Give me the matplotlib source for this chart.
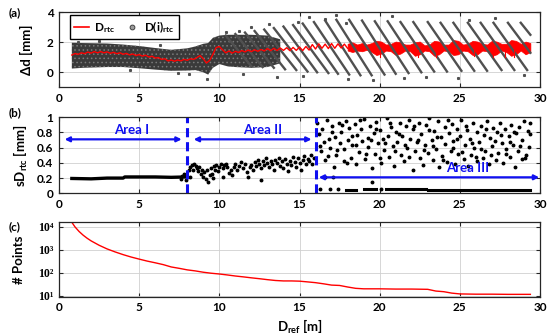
import numpy as np
import matplotlib
matplotlib.use("Agg")
import matplotlib.pyplot as plt
from matplotlib.lines import Line2D

plt.rcParams['font.family'] = ['Lato', 'DejaVu Sans']
plt.rcParams['font.weight'] = 'bold'
plt.rcParams['mathtext.fontset'] = 'custom'
plt.rcParams['mathtext.rm'] = 'Lato:bold'
plt.rcParams['mathtext.bf'] = 'Lato:bold'
plt.rcParams['mathtext.it'] = 'Lato:bold'
plt.rcParams['hatch.linewidth'] = 0.6

# ---- panel (a): D_rtc (red) and D(i)_rtc cloud (gray)
rtc_x = [0.8, 1.0, 1.2, 1.4, 1.6, 1.8, 2.0, 2.2, 2.4, 2.6, 2.8, 3.0, 3.2, 3.4, 3.6, 3.8,
         4.0, 4.2, 4.4, 4.6, 4.8, 5.0, 5.2, 5.4, 5.6, 5.8, 6.0, 6.2, 6.4, 6.6, 6.8, 7.0,
         7.2, 7.4, 7.6, 7.8, 8.0, 8.2, 8.4, 8.6, 8.8, 9.0, 9.2, 9.4, 9.6, 9.8, 10.0, 10.2,
         10.4, 10.6, 10.8, 11.0, 11.2, 11.4, 11.6, 11.8, 12.0, 12.2, 12.4, 12.6, 12.8, 13.0,
         13.2, 13.4, 13.6, 13.8, 14.0, 14.2, 14.4, 14.6, 14.8, 15.0, 15.2, 15.4, 15.6, 15.8,
         16.0, 16.2, 16.4, 16.6, 16.8, 17.0, 17.2, 17.4, 17.6, 17.8, 18.0]
rtc_y = [1.15, 1.25, 1.2, 1.3, 1.24, 1.35, 1.28, 1.38, 1.3, 1.38, 1.3, 1.36, 1.27, 1.33, 1.24, 1.3,
         1.2, 1.26, 1.16, 1.22, 1.12, 1.18, 1.08, 1.14, 1.02, 1.07, 0.95, 0.98, 0.86, 0.9, 0.76, 0.82,
         0.74, 0.82, 0.76, 0.86, 0.8, 0.9, 0.86, 0.98, 1.12, 0.9, 0.62, 0.8, 1.2, 1.65, 1.72, 1.5,
         1.3, 1.42, 1.28, 1.4, 1.32, 1.45, 1.36, 1.48, 1.38, 1.5, 1.4, 1.52, 1.42, 1.58,
         1.44, 1.6, 1.45, 1.62, 1.46, 1.64, 1.44, 1.66, 1.46, 1.68, 1.45, 1.72, 1.48, 1.85,
         1.55, 1.9, 1.6, 1.88, 1.58, 1.92, 1.6, 1.9, 1.62, 1.88, 1.6]

band_x = [18.0, 18.3, 18.6, 18.9, 19.2, 19.5, 19.8, 20.1, 20.4, 20.7, 21.0, 21.3, 21.6, 21.9,
          22.2, 22.5, 22.8, 23.1, 23.4, 23.7, 24.0, 24.3, 24.6, 24.9, 25.2, 25.5, 25.8, 26.1,
          26.4, 26.7, 27.0, 27.3, 27.6, 27.9, 28.2, 28.5, 28.8, 29.1, 29.4]
band_lo = [1.45, 1.35, 1.45, 1.4, 1.5, 1.35, 1.15, 1.25, 1.45, 1.4, 1.15, 1.25, 1.45, 1.4,
           1.1, 1.2, 1.45, 1.4, 1.1, 1.2, 1.45, 1.4, 1.15, 1.2, 1.45, 1.4, 1.15, 1.2,
           1.45, 1.4, 1.1, 1.2, 1.45, 1.35, 1.1, 1.2, 1.45, 1.2, 1.35]
band_hi = [1.9, 2.0, 1.85, 1.95, 1.85, 1.95, 2.1, 2.05, 1.85, 1.9, 2.05, 2.0, 1.85, 1.85,
           2.0, 2.05, 1.8, 1.85, 2.1, 2.05, 1.85, 1.85, 2.15, 2.1, 1.85, 1.9, 2.1, 2.05,
           1.9, 1.85, 2.1, 2.05, 1.9, 1.9, 2.15, 2.1, 1.9, 2.05, 1.95]
spike_x = [20.0, 22.4, 23.5, 25.9, 27.1, 27.8, 28.4]
spike_y = [1.0, 1.0, 1.05, 1.1, 1.0, 1.0, 1.05]

cloud_x = [0.8, 1.5, 3.0, 4.0, 5.0, 6.0, 7.0, 8.0, 8.5, 9.0, 9.3, 9.6, 10.0, 10.5, 11.0,
           12.0, 13.0, 13.8]
cloud_lo = [0.25, 0.3, 0.35, 0.35, 0.27, 0.18, 0.1, 0.12, 0.15, 0.0, -0.15, 0.3, 0.55, 0.4,
            0.35, 0.3, 0.35, 0.6]
cloud_hi = [1.97, 1.95, 1.92, 1.85, 1.75, 1.62, 1.5, 1.6, 1.72, 1.9, 1.95, 2.3, 2.45, 2.5,
            2.5, 2.5, 2.45, 2.2]

streak_x0 = [10.4, 11.0, 11.6, 12.2, 12.8, 13.4, 14.0, 14.6, 15.2, 15.9, 16.6, 17.3, 18.1,
             18.9, 19.7, 20.5, 21.3, 22.1, 23.0, 23.8, 24.6, 25.5, 26.3, 27.1, 28.0, 28.8]
streak_y0 = [2.45, 2.55, 2.65, 2.75, 2.85, 2.95, 3.05, 3.15, 3.25, 3.35, 3.45, 3.5, 3.5,
             3.45, 3.4, 3.4, 3.35, 3.35, 3.35, 3.3, 3.3, 3.3, 3.3, 3.3, 3.3, 3.3]
streak_x1 = [12.0, 12.7, 13.4, 14.1, 14.8, 15.5, 16.1, 16.8, 17.4, 18.1, 18.8, 19.5, 20.3,
             21.0, 21.8, 22.6, 23.4, 24.2, 25.1, 25.9, 26.7, 27.6, 28.4, 29.2, 29.4, 29.4]
streak_y1 = [0.4, 0.35, 0.3, 0.2, 0.15, 0.05, 0.0, -0.05, -0.1, -0.15, -0.2, -0.2, -0.15,
             -0.1, -0.05, 0.0, 0.05, 0.05, 0.1, 0.1, 0.1, 0.15, 0.15, 0.15, 1.3, 2.5]
stray_x = [14.9, 15.6, 16.6, 17.3, 18.0, 19.6, 21.5, 24.9, 13.6, 9.2, 12.0, 11.5, 20.8,
           25.6, 29.0, 10.4, 8.1, 2.5, 6.3, 17.9, 22.9, 27.2, 13.1, 15.2, 4.4, 7.4, 1.2, 11.2]
stray_y = [3.35, 3.7, 3.55, 3.8, -0.45, -0.5, -0.35, -0.4, -0.3, -0.45, 3.0, -0.1, 3.75,
           3.5, -0.2, 2.7, -0.1, 2.1, 1.8, 3.3, -0.3, 3.6, 3.2, -0.25, 0.15, -0.05, 2.05, 2.75]

# ---- panel (b): sD_rtc
area1_x = [0.8, 2.0, 3.0, 4.0, 4.1, 6.0, 7.0, 7.9]
area1_y = [0.195, 0.19, 0.2, 0.2, 0.215, 0.215, 0.21, 0.215]
area1_dx = [7.6, 7.8, 7.95, 7.7]
area1_dy = [0.19, 0.25, 0.18, 0.23]

area2_x = [8.1, 8.15, 8.2, 8.3, 8.35, 8.45, 8.55, 8.6, 8.7, 8.75, 8.85, 8.9, 9.0, 9.05, 9.15,
           9.25, 9.3, 9.4, 9.5, 9.55, 9.65, 9.75, 9.8, 9.9, 10.0, 10.1, 10.2, 10.3, 10.4, 10.5,
           10.6, 10.7, 10.8, 10.9, 11.0, 11.1, 11.25, 11.35, 11.5, 11.6, 11.7, 11.8, 11.9, 12.0,
           12.1, 12.2, 12.3, 12.4, 12.5, 12.6, 12.7, 12.8, 12.9, 13.0, 13.1, 13.2, 13.3, 13.4,
           13.5, 13.6, 13.7, 13.8, 13.9, 14.0, 14.1, 14.2, 14.3, 14.4, 14.5, 14.6, 14.7, 14.8,
           14.9, 15.0, 15.1, 15.2, 15.3, 15.4, 15.5, 15.6, 15.7, 15.8, 15.9, 9.6, 12.6, 10.25]
area2_y = [0.30, 0.22, 0.34, 0.37, 0.31, 0.38, 0.36, 0.33, 0.29, 0.35, 0.26, 0.31, 0.22, 0.28, 0.19,
           0.30, 0.15, 0.24, 0.33, 0.26, 0.36, 0.31, 0.37, 0.29, 0.35, 0.38, 0.33, 0.37, 0.39, 0.34,
           0.27, 0.31, 0.24, 0.35, 0.39, 0.30, 0.36, 0.41, 0.33, 0.38, 0.28, 0.22, 0.34, 0.37,
           0.31, 0.41, 0.36, 0.44, 0.39, 0.33, 0.42, 0.37, 0.46, 0.40, 0.34, 0.43, 0.38, 0.30,
           0.44, 0.40, 0.47, 0.36, 0.42, 0.33, 0.45, 0.39, 0.29, 0.43, 0.37, 0.48, 0.41, 0.35,
           0.46, 0.40, 0.31, 0.44, 0.49, 0.38, 0.45, 0.42, 0.50, 0.39, 0.47, 0.20, 0.17, 0.21]

area3_x = [16.1, 16.2, 16.35, 16.4, 16.55, 16.6, 16.7, 16.85, 16.9, 17.0, 17.15, 17.2, 17.3,
           17.45, 17.5, 17.6, 17.75, 17.8, 17.9, 18.05, 18.1, 18.2, 18.3, 18.45, 18.5, 18.6,
           18.7, 18.85, 18.9, 19.0, 19.1, 19.25, 19.3, 19.4, 19.5, 19.65, 19.7, 19.8, 19.9,
           20.05, 20.1, 20.2, 20.3, 20.45, 20.5, 20.6, 20.7, 20.85, 20.9, 21.0, 21.1, 21.25,
           21.3, 21.4, 21.5, 21.65, 21.7, 21.8, 21.9, 22.05, 22.1, 22.2, 22.3, 22.45, 22.5,
           22.6, 22.7, 22.85, 22.9, 23.0, 23.1, 23.25, 23.3, 23.4, 23.5, 23.65, 23.7, 23.8,
           23.9, 24.05, 24.1, 24.2, 24.3, 24.45, 24.5, 24.6, 24.7, 24.85, 24.9, 25.0, 25.1,
           25.25, 25.3, 25.4, 25.5, 25.65, 25.7, 25.8, 25.9, 26.05, 26.1, 26.2, 26.3, 26.45,
           26.5, 26.6, 26.7, 26.85, 26.9, 27.0, 27.1, 27.25, 27.3, 27.4, 27.5, 27.65, 27.7,
           27.8, 27.9, 28.05, 28.1, 28.2, 28.3, 28.45, 28.5, 28.6, 28.7, 28.85, 28.9, 29.0,
           29.1, 29.25, 29.3, 29.4,
           16.25, 16.75, 17.05, 17.35, 17.65, 17.95, 18.25, 18.55, 18.8, 19.15, 19.45, 19.75,
           20.0, 20.35, 20.65, 20.95, 21.2, 21.55, 21.85, 22.15, 22.4, 22.75, 23.05, 23.35,
           23.6, 23.95, 24.25, 24.55, 24.8, 25.15, 25.45, 25.75, 26.0, 26.35, 26.65, 26.95,
           27.2, 27.55, 27.85, 28.15, 28.4, 28.75, 29.05, 29.35]
area3_y = [0.92, 0.78, 0.55, 0.85, 0.67, 0.44, 0.97, 0.72, 0.60, 0.88, 0.35, 0.74, 0.51,
           0.93, 0.66, 0.81, 0.42, 0.58, 0.95, 0.70, 0.86, 0.47, 0.63, 0.91, 0.38, 0.77,
           0.54, 0.84, 0.69, 0.98, 0.45, 0.73, 0.61, 0.89, 0.33, 0.79, 0.52, 0.94, 0.66,
           0.83, 0.40, 0.71, 0.57, 0.99, 0.75, 0.48, 0.87, 0.62, 0.36, 0.80, 0.68, 0.92,
           0.50, 0.76, 0.43, 0.88, 0.59, 0.96, 0.72, 0.31, 0.84, 0.55, 0.67, 0.93, 0.46,
           0.78, 0.37, 0.63, 0.90, 0.53, 0.99, 0.70, 0.44, 0.82, 0.58, 0.95, 0.34, 0.74,
           0.49, 0.87, 0.65, 0.41, 0.79, 0.56, 0.91, 0.69, 0.39, 0.85, 0.52, 0.75, 0.97,
           0.45, 0.64, 0.88, 0.36, 0.71, 0.50, 0.93, 0.60, 0.81, 0.42, 0.68, 0.89, 0.47,
           0.77, 0.56, 0.95, 0.38, 0.73, 0.62, 0.86, 0.44, 0.80, 0.53, 0.92, 0.66, 0.40,
           0.84, 0.58, 0.76, 0.48, 0.90, 0.63, 0.35, 0.79, 0.55, 0.87, 0.45, 0.70, 0.95,
           0.51, 0.82, 0.61, 0.92,
           0.62, 0.49, 0.80, 0.57, 0.90, 0.40, 0.75, 0.64, 0.96, 0.52, 0.70, 0.85,
           0.46, 0.66, 0.93, 0.55, 0.78, 0.63, 0.48, 0.88, 0.70, 0.57, 0.83, 0.62,
           0.74, 0.44, 0.96, 0.60, 0.72, 0.54, 0.83, 0.66, 0.48, 0.58, 0.84, 0.50,
           0.69, 0.77, 0.52, 0.68, 0.81, 0.62, 0.47, 0.78]
low_seg = [(17.9, 18.5, 0.045), (19.0, 19.8, 0.05), (20.4, 22.9, 0.05), (23.0, 29.4, 0.04)]
low_dx = [16.3, 16.9, 17.4, 19.5, 16.6, 17.1, 20.1]
low_dy = [0.06, 0.05, 0.05, 0.15, 0.22, 0.22, 0.05]

# ---- panel (c): number of points
pts_x = [0.8, 1.0, 1.25, 1.5, 1.75, 2.0, 2.5, 3.0, 3.5, 4.0, 4.5, 5.0, 5.5, 6.0, 6.5, 7.0,
         7.5, 8.0, 8.5, 9.0, 9.5, 10.0, 10.5, 11.0, 11.5, 12.0, 12.5, 13.0, 13.5, 14.0, 14.5,
         15.0, 15.5, 16.0, 16.5, 17.0, 17.5, 18.0, 18.5, 19.0, 20.0, 21.0, 22.0, 23.0, 23.5,
         24.0, 24.5, 25.0, 26.0, 27.0, 28.0, 29.0, 29.4]
pts_n = [15500, 9700, 6200, 4300, 3160, 2420, 1560, 1080, 800, 610, 480, 390, 320, 270, 225,
         178, 155, 133, 120, 105, 95, 88, 80, 72, 66, 60, 55, 50, 46, 44, 44, 43, 40, 37, 33,
         29, 28, 24, 21, 20, 20, 19.5, 19.5, 19, 16, 15, 13, 12, 11.7, 11.7, 11.5, 11.5, 11.5]

blue = '#1010f0'
edge = '#262626'

fig = plt.figure(figsize=(5.5, 3.34), dpi=100)
L, W = 0.1073, 0.8745
ax1 = fig.add_axes([L, 0.7386, W, 0.2246])
ax2 = fig.add_axes([L, 0.4213, W, 0.2275])
ax3 = fig.add_axes([L, 0.1117, W, 0.2237])

for ax in (ax1, ax2, ax3):
    ax.set_xlim(0, 30)
    ax.set_xticks([0, 5, 10, 15, 20, 25, 30])
    ax.tick_params(direction='in', top=True, right=True, length=3, width=0.8,
                   labelsize=8.5, color=edge, pad=4)
    ax.grid(True, color='#d0d0d0', lw=0.6)
    ax.set_axisbelow(True)
    for s in ax.spines.values():
        s.set_color(edge)
        s.set_linewidth(0.9)
    for lab in ax.get_xticklabels() + ax.get_yticklabels():
        lab.set_fontweight('bold')

# (a)
ax1.fill_between(cloud_x, cloud_lo, cloud_hi, facecolor='#3a3a3a', edgecolor='#7a7a7a',
                 hatch='....', lw=0)
for x0, y0, x1, y1 in zip(streak_x0, streak_y0, streak_x1, streak_y1):
    ax1.plot([x0, x1], [y0, y1], color='#505050', lw=1.7)
ax1.plot(stray_x, stray_y, 's', color='#505050', ms=1.2)
ax1.plot(rtc_x, rtc_y, color='red', lw=1.0)
ax1.fill_between(band_x, band_lo, band_hi, color='red', lw=0.5)
for sx, sy in zip(spike_x, spike_y):
    ax1.plot([sx, sx], [1.5, sy], color='red', lw=0.8)
ax1.set_ylim(-1, 4)
ax1.set_yticks([0, 2, 4])
ax1.set_ylabel('Δd [mm]', fontsize=9.5, fontweight='bold')
ax1.yaxis.set_label_coords(-0.055, 0.5)
h = [Line2D([], [], color='red', lw=1.2),
     Line2D([], [], ls='none', marker='o', ms=3.5, mfc='#9a9a9a', mec='#303030', mew=0.6)]
leg = ax1.legend(h, [r'D$_{\mathbf{rtc}}$', r'D(i)$_{\mathbf{rtc}}$'], loc='upper left',
                 bbox_to_anchor=(0.022, 0.96), ncol=2, fontsize=8.5, frameon=True, fancybox=False,
                 handlelength=1.3, handletextpad=0.4, columnspacing=0.8, borderpad=0.35,
                 borderaxespad=0, framealpha=1)
leg.get_frame().set_edgecolor('black')
leg.get_frame().set_linewidth(1.0)
for t in leg.get_texts():
    t.set_fontweight('bold')

# (b)
ax2.plot(area1_x, area1_y, color='black', lw=2.4)
ax2.plot(area1_dx, area1_dy, 'o', color='black', ms=1.8)
ax2.plot(area2_x, area2_y, 'o', color='black', ms=1.8)
ax2.plot(area3_x, area3_y, 'o', color='black', ms=1.8)
for a, b, y in low_seg:
    ax2.plot([a, b], [y, y], color='black', lw=2.2)
ax2.plot(low_dx, low_dy, 'o', color='black', ms=1.8)
ax2.axvline(8, color=blue, lw=2.2, ls=(0, (3, 1.6)))
ax2.axvline(16, color=blue, lw=2.2, ls=(0, (3, 1.6)))
arr = dict(arrowstyle='<|-|>', color=blue, lw=1.6, mutation_scale=7, shrinkA=0, shrinkB=0)
ax2.annotate('', xy=(0.35, 0.71), xytext=(7.65, 0.71), arrowprops=arr)
ax2.annotate('', xy=(8.4, 0.71), xytext=(15.75, 0.71), arrowprops=arr)
ax2.annotate('', xy=(16.2, 0.21), xytext=(29.95, 0.21), arrowprops=arr)
ax2.text(4.5, 0.83, 'Area I', color=blue, fontsize=9.5, fontweight='bold', ha='center', va='center')
ax2.text(12.7, 0.83, 'Area II', color=blue, fontsize=9.5, fontweight='bold', ha='center', va='center')
ax2.text(25.5, 0.33, 'Area III', color=blue, fontsize=9.5, fontweight='bold', ha='center', va='center')
ax2.set_ylim(0, 1)
ax2.set_yticks([0, 0.2, 0.4, 0.6, 0.8, 1])
ax2.set_yticklabels(['0', '0.2', '0.4', '0.6', '0.8', '1'])
ax2.set_ylabel(r'sD$_{\mathbf{rtc}}$ [mm]', fontsize=9.5, fontweight='bold')
ax2.yaxis.set_label_coords(-0.06, 0.5)

# (c)
ax3.set_yscale('log')
ax3.plot(pts_x, pts_n, color='red', lw=1.0)
ax3.set_ylim(9.1, 16000)
ax3.set_yticks([10, 100, 1000, 10000])
ax3.set_yticklabels(['10¹', '10²', '10³', '10⁴'], family='Liberation Serif', fontweight='bold')
ax3.grid(True, which='minor', axis='y', color='#cdcdcd', lw=0.8)
ax3.tick_params(which='minor', direction='in', right=True, length=1.8, color=edge)
ax3.set_ylabel('# Points', fontsize=9.5, fontweight='bold')
ax3.yaxis.set_label_coords(-0.07, 0.5)
ax3.set_xlabel(r'D$_{\mathbf{ref}}$ [m]', fontsize=9.5, fontweight='bold', labelpad=3)

fig.text(0.015, 0.961, '(a)', fontsize=8.5, fontweight='bold', va='center')
fig.text(0.015, 0.662, '(b)', fontsize=8.5, fontweight='bold', va='center')
fig.text(0.015, 0.320, '(c)', fontsize=8.5, fontweight='bold', va='center')

fig.savefig('out.png', dpi=100)
